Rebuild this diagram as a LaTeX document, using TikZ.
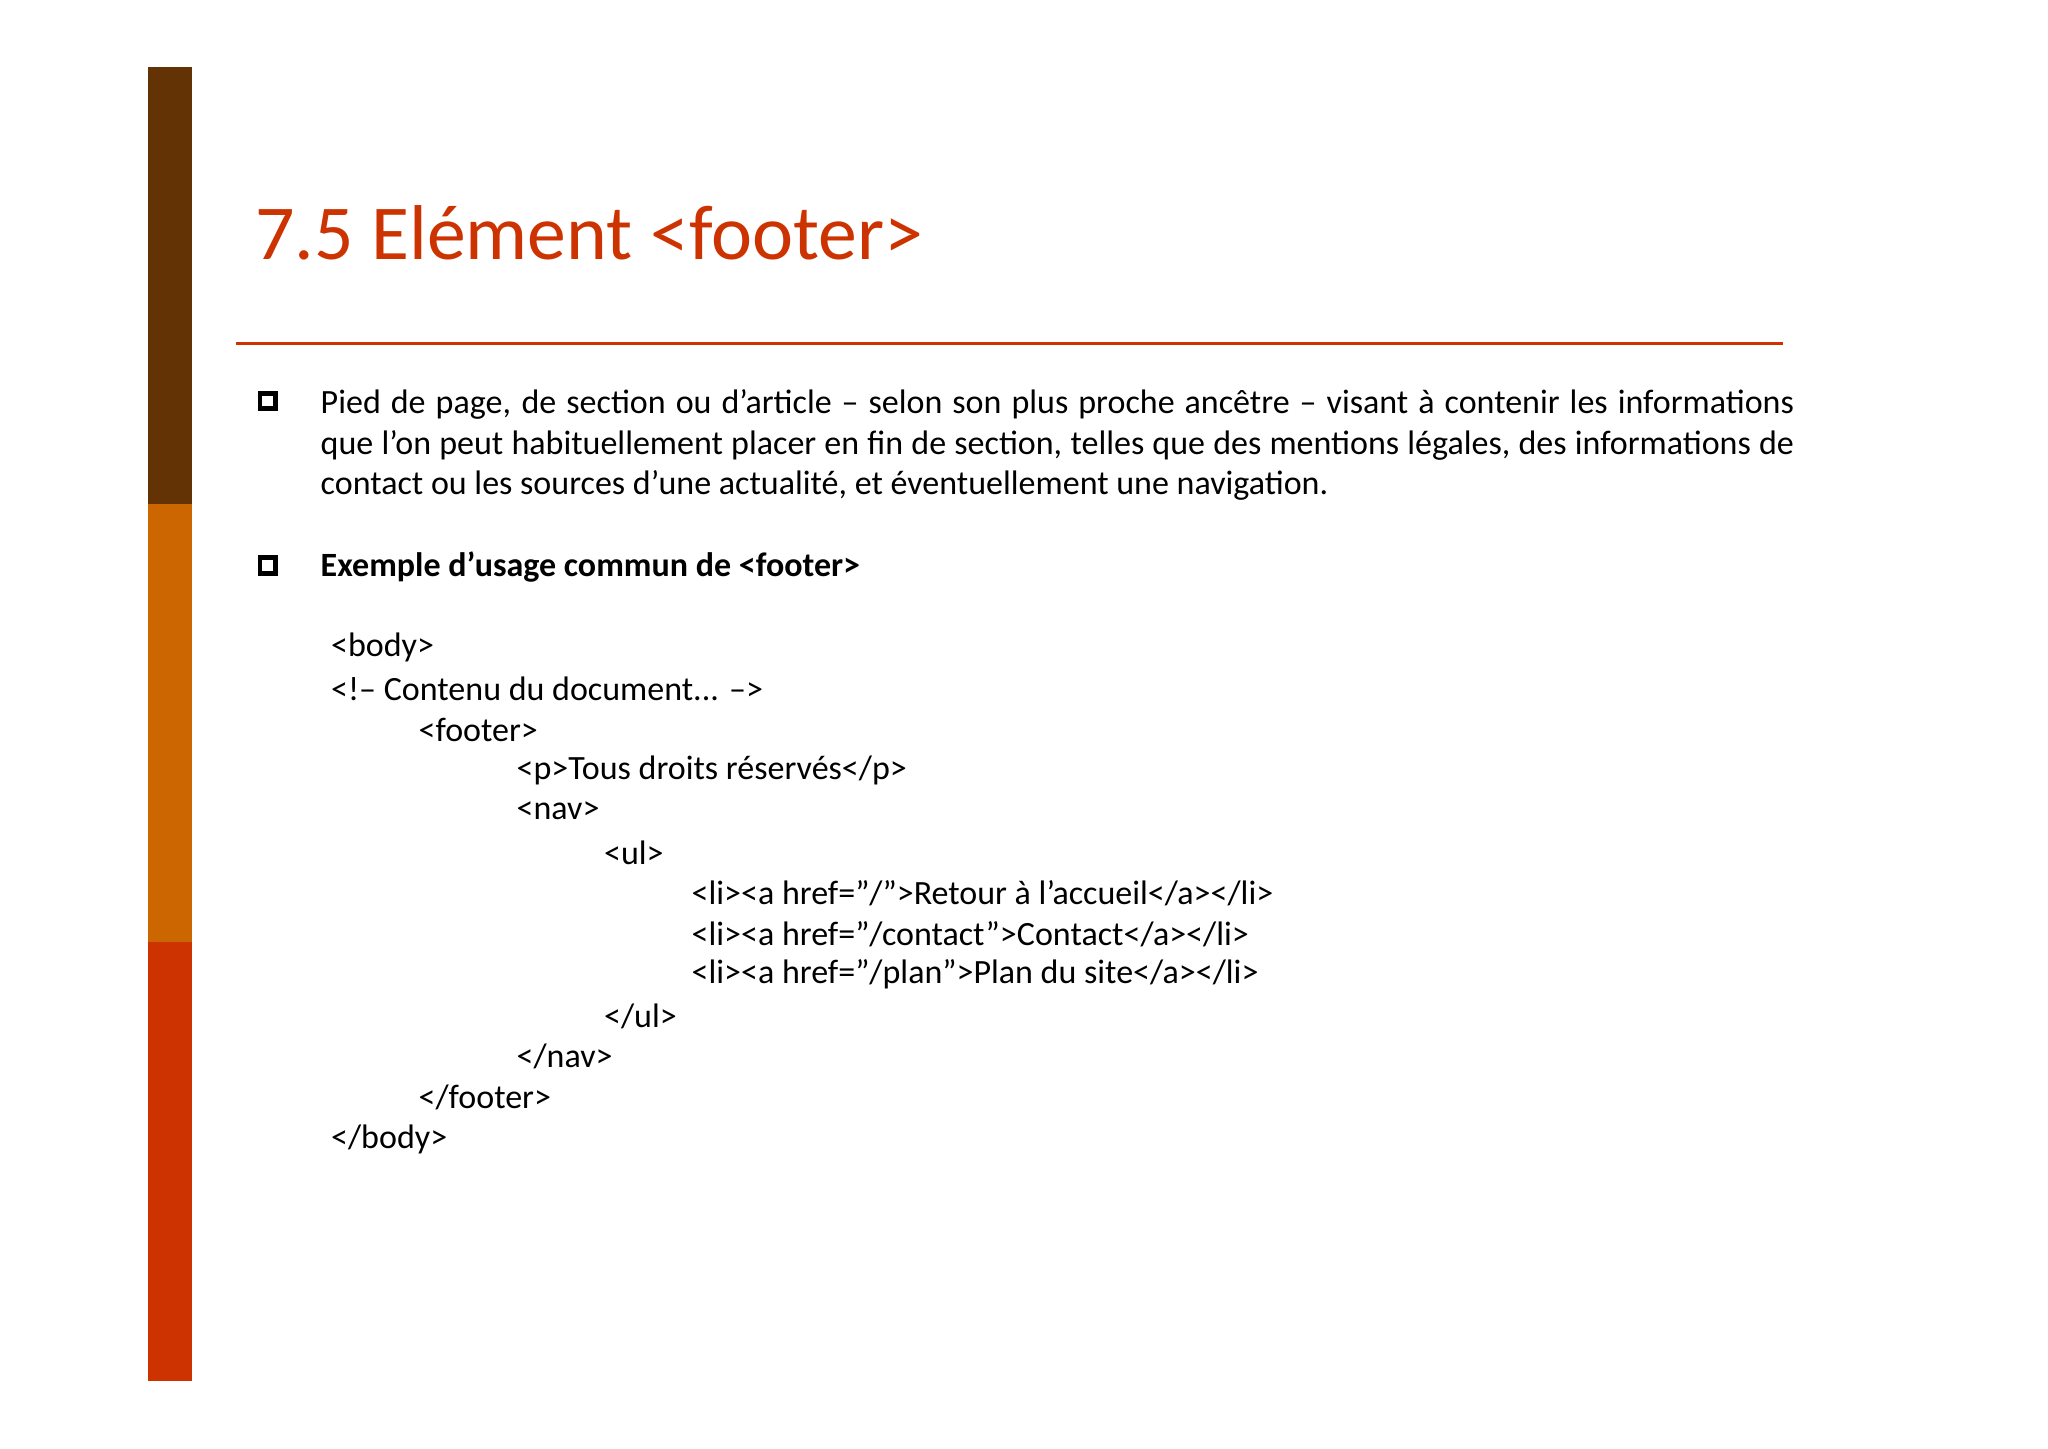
\documentclass[tikz,border=0pt]{standalone}
\usepackage{fontspec}
\setmainfont{Carlito}[Ligatures=ResetAll]
\definecolor{brn}{HTML}{633205}
\definecolor{org}{HTML}{CC6600}
\definecolor{rd}{HTML}{CC3300}
\begin{document}
\begin{tikzpicture}[x=0.012755cm,y=-0.012755cm,
  txt/.style={anchor=west,inner sep=0,font=\fontsize{9.45pt}{11.25pt}\selectfont},
  bul/.style={draw=black,line width=1.3pt,minimum size=4.3pt,inner sep=0}]
\useasboundingbox (0,0) rectangle (1568,1109);
\fill[brn] (113,51) rectangle (147,386);
\fill[org] (113,386) rectangle (147,721);
\fill[rd] (113,721) rectangle (147,1057);
\node[anchor=west,inner sep=0,text=rd,font=\fontsize{21.6pt}{24pt}\selectfont] (title) at (195,178) {7.5 Elément <footer>};
\draw[rd,line width=1.1pt] (181,263) -- (1365,263);
\node[bul] (b1) at (205,307) {};
\node[bul] (b2) at (205,433) {};
\node[anchor=north west,inner sep=0,text width=409.4pt,align=justify,font=\fontsize{9.45pt}{11.25pt}\selectfont] (p) at (245,298) {Pied de page, de section ou d’article – selon son plus proche ancêtre – visant à contenir les informations que l’on peut habituellement placer en fin de section, telles que des mentions légales, des informations de contact ou les sources d’une actualité, et éventuellement une navigation.};
\node[txt,font=\fontsize{9.45pt}{11.25pt}\selectfont\bfseries] (h) at (245,434) {Exemple d’usage commun de <footer>};
\node[txt] (c1) at (253,496) {<body>};
\node[txt] (c2) at (253,527) {<!-- Contenu du document... -->};
\node[txt] (c3) at (320,559) {<footer>};
\node[txt] (c4) at (395,590) {<p>Tous droits réservés</p>};
\node[txt] (c5) at (395,621) {<nav>};
\node[txt] (c6) at (462,653) {<ul>};
\node[txt] (c7) at (529,684) {<li><a href="/">Retour à l’accueil</a></li>};
\node[txt] (c8) at (529,715) {<li><a href="/contact">Contact</a></li>};
\node[txt] (c9) at (529,746) {<li><a href="/plan">Plan du site</a></li>};
\node[txt] (c10) at (462,778) {</ul>};
\node[txt] (c11) at (395,809) {</nav>};
\node[txt] (c12) at (320,840) {</footer>};
\node[txt] (c13) at (253,872) {</body>};
\end{tikzpicture}
\end{document}
